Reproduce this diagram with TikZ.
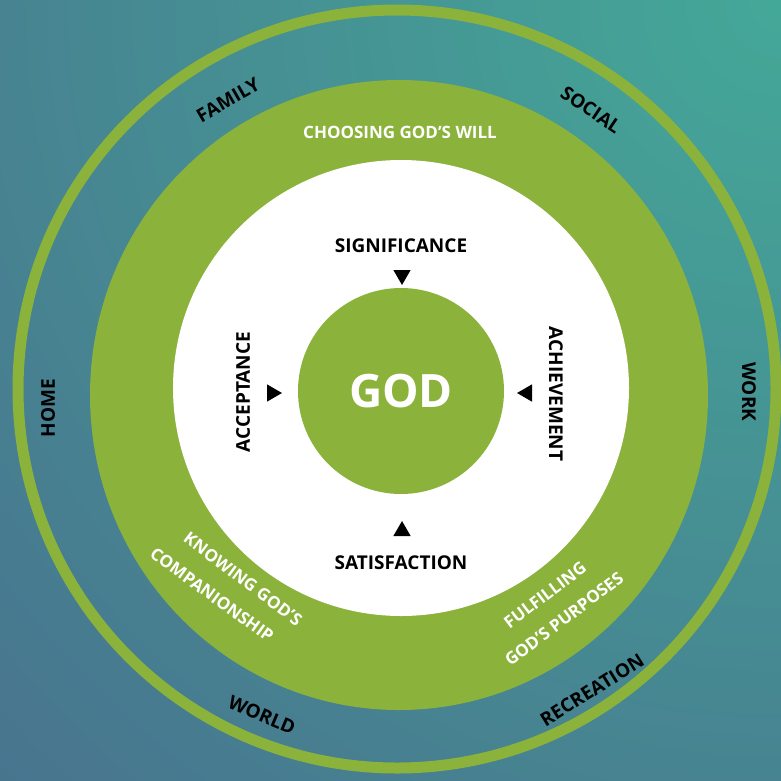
\documentclass[tikz,border=0pt]{standalone}
\usepackage{fontspec}
\setmainfont{Open Sans}
\usetikzlibrary{shapes.geometric}
\definecolor{gr}{RGB}{139,178,58}
\definecolor{teal1}{RGB}{68,168,152}
\definecolor{blue1}{RGB}{72,114,142}
\begin{document}
\begin{tikzpicture}[x=1pt,y=-1pt,
  lbl/.style={font=\bfseries\fontsize{19}{19}\selectfont, text=black, inner sep=0pt},
  wlbl/.style={font=\bfseries\fontsize{17}{17}\selectfont, text=white, inner sep=0pt},
  tri/.style={regular polygon, regular polygon sides=3, fill=black, inner sep=0pt, minimum size=20pt}]
\useasboundingbox (0,0) rectangle (781,780);
\begin{scope}
  \clip (0,0) rectangle (781,780);
  \shade[inner color=teal1, outer color=blue1] (781,0) circle [radius=1150pt];
\end{scope}
\draw[gr, line width=11pt] (397,389) circle [radius=379pt];
\fill[gr] (399,395) ellipse [x radius=309pt, y radius=315pt];
\fill[white] (401,388) circle [radius=228pt];
\node[circle, fill=gr, minimum size=206pt, inner sep=0pt, text=white,
  font=\bfseries\fontsize{46}{46}\selectfont] (god) at (401,391) {GOD};

% inner labels
\node[lbl] (sig) at (401,246) {SIGNIFICANCE};
\node[lbl] (sat) at (401,563) {SATISFACTION};
\node[lbl, rotate=90] (acc) at (243,392) {ACCEPTANCE};
\node[lbl, rotate=-90] (ach) at (556,394) {ACHIEVEMENT};
\node[tri, shape border rotate=180] (tsig) at (402,275) {};
\node[tri] (tsat) at (402,531) {};
\node[tri, shape border rotate=-90] (tacc) at (272,393) {};
\node[tri, shape border rotate=90] (tach) at (527,393) {};

% green ring labels
\node[wlbl] (choose) at (400,132) {CHOOSING GOD’S WILL};
\node[wlbl, rotate=-37] (know1) at (243,579) {KNOWING GOD’S};
\node[wlbl, rotate=-36] (know2) at (212,595) {COMPANIONSHIP};
\node[wlbl, rotate=37] (ful1) at (545,595) {FULFILLING};
\node[wlbl, rotate=37] (ful2) at (564,619) {GOD’S PURPOSES};

% outer labels
\node[lbl, rotate=30] (family) at (228,100) {FAMILY};
\node[lbl, rotate=-34] (social) at (591,110) {SOCIAL};
\node[lbl, rotate=90] (home) at (48,408) {HOME};
\node[lbl, rotate=-90] (work) at (749,392) {WORK};
\node[lbl, rotate=-23] (world) at (262,715) {WORLD};
\node[lbl, rotate=32] (recr) at (592,690) {RECREATION};
\end{tikzpicture}
\end{document}
